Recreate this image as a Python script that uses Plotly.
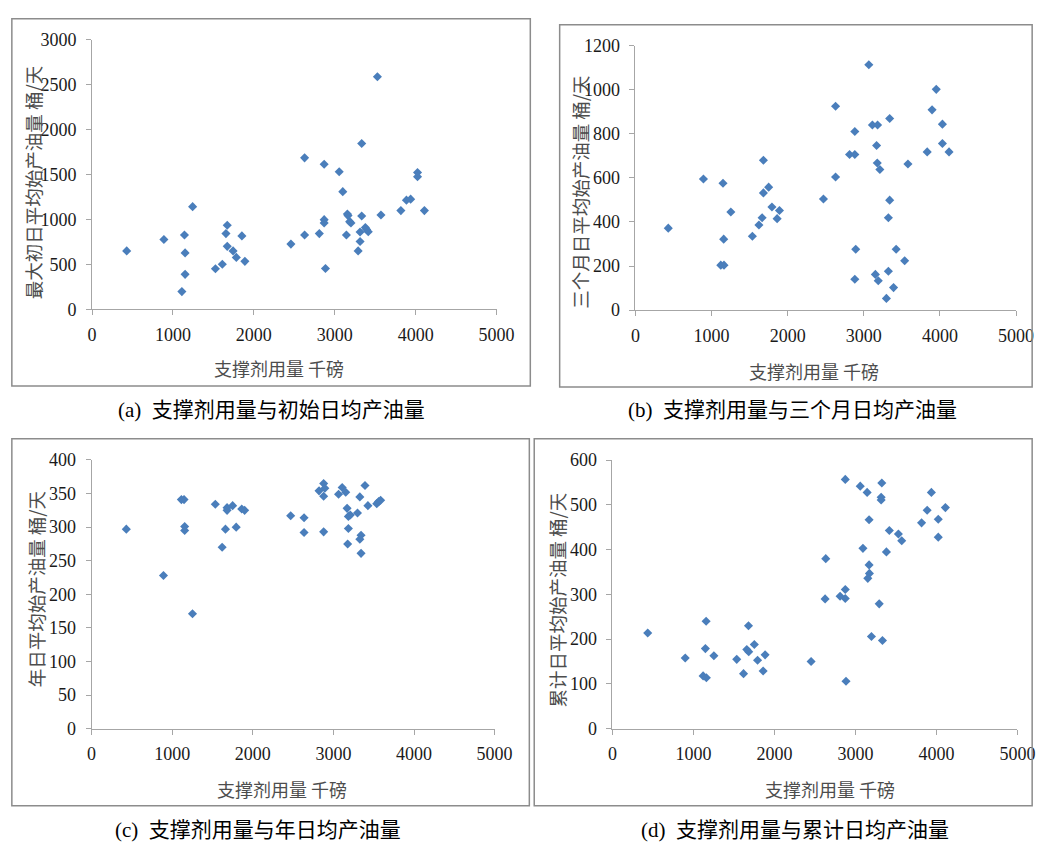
import plotly.graph_objects as go

# ---------------- data ----------------
# (a) proppant volume vs. max initial daily oil rate
a_x = [428, 888, 1142, 1150, 1150, 1110, 1243, 1525, 1610, 1655, 1671, 1671, 1743, 1783,
       1852, 1889, 2458, 2627, 2627, 2809, 2869, 2869, 2869, 2885, 3055, 3099, 3144, 3156,
       3164, 3184, 3200, 3289, 3313, 3313, 3333, 3333, 3378, 3394, 3414, 3527, 3571, 3817,
       3886, 3938, 4023, 4023, 4108]
a_y = [652, 779, 829, 630, 391, 199, 1145, 453, 503, 845, 938, 703, 652, 580,
       819, 536, 728, 829, 1688, 845, 1616, 1000, 964, 456, 1533, 1312, 829, 1062,
       1045, 978, 964, 652, 862, 757, 1848, 1040, 913, 891, 866, 2590, 1051, 1101,
       1217, 1228, 1525, 1478, 1101]

# (b) proppant volume vs. three-month daily oil rate
b_x = [431, 893, 1150, 1159, 1121, 1163, 1253, 1536, 1622, 1664, 1681, 1681, 1750, 1793,
       1861, 1892, 2470, 2629, 2629, 3066, 2882, 2813, 2882, 3113, 3181, 3340, 3168, 3177,
       3211, 3580, 3952, 3897, 4033, 4033, 3833, 4120, 3340, 3323, 2894, 2882, 3425, 3537,
       3323, 3152, 3190, 3391, 3297]
b_y = [372, 595, 576, 322, 204, 204, 445, 335, 386, 419, 680, 532, 558, 468,
       415, 452, 504, 925, 604, 1114, 811, 706, 706, 840, 840, 870, 747, 668,
       638, 663, 1002, 909, 844, 756, 718, 718, 499, 419, 276, 140, 276, 224,
       176, 162, 133, 102, 53]

# (c) proppant volume vs. annual daily oil rate
c_x = [431, 892, 1114, 1147, 1155, 1155, 1252, 1535, 1620, 1661, 1681, 1681, 1750, 1794,
       1863, 1899, 2470, 2636, 2636, 2822, 2879, 2894, 2879, 2879, 3064, 3109, 3153, 3170,
       3186, 3210, 3186, 3177, 3299, 3328, 3343, 3328, 3343, 3392, 3428, 3538, 3562, 3586]
c_y = [297, 228, 341, 341, 301, 295, 171, 334, 270, 297, 329, 325, 332, 300,
       327, 325, 317, 314, 292, 354, 365, 358, 346, 293, 349, 359, 352, 328,
       316, 318, 298, 275, 321, 345, 288, 282, 261, 362, 332, 335, 338, 340]

# (d) proppant volume vs. cumulative daily oil rate
d_x = [435, 898, 1156, 1147, 1252, 1119, 1159, 1534, 1618, 1679, 1658, 1682, 1751, 1791,
       1884, 1860, 2452, 2633, 2625, 2810, 2874, 2874, 2874, 2883, 3059, 3144, 3325, 3317,
       3317, 3168, 3092, 3168, 3172, 3152, 3293, 3197, 3333, 3418, 3530, 3571, 3382, 3937,
       3885, 3816, 4110, 4022, 4022]
d_y = [214, 158, 240, 179, 163, 118, 114, 155, 123, 230, 177, 172, 188, 153,
       165, 129, 150, 380, 290, 296, 311, 291, 557, 106, 542, 528, 549, 517,
       511, 467, 403, 366, 347, 336, 279, 206, 197, 443, 435, 420, 395, 528,
       488, 460, 494, 468, 428]

x_title = "支撑剂用量 千磅"
y_titles = ["最大初日平均始产油量 桶/天", "三个月日平均始产油量 桶/天",
            "年日平均始产油量 桶/天", "累计日平均始产油量 桶/天"]
captions = ["(a)  支撑剂用量与初始日均产油量", "(b)  支撑剂用量与三个月日均产油量",
            "(c)  支撑剂用量与年日均产油量", "(d)  支撑剂用量与累计日均产油量"]
y_ranges = [(0, 3000, 500), (0, 1200, 200), (0, 400, 50), (0, 600, 100)]

# ---------------- layout geometry (pixels) ----------------
W, H = 1057, 851
def px(x):
    return x / W
def py(y):
    return 1 - y / H

# plot areas: (left, top, right, bottom)
plots = [(89, 30.7, 502.5, 306.7), (644.5, 36.6, 1033.5, 307.3),
         (88.5, 460.8, 500.5, 736), (621, 461, 1035, 736)]
# chart frames
frames = [(7, 9, 537, 385), (567, 15, 1050, 386), (7, 439, 536, 815), (541, 439, 1050, 815)]
x_title_pos = [(280, 367), (827, 370), (283, 798), (843, 798)]
y_title_pos = [(28, 177), (587, 187), (32, 593), (564, 604)]
caption_pos = [(272, 410), (805, 410), (259, 840), (808, 840)]

SERIF = "Liberation Serif"
CJK = "Noto Sans CJK SC, sans-serif"
MIX = "Liberation Serif, Noto Sans CJK SC, serif"
BLUE = "#4a7ebb"
AXIS = "#a6a6a6"

fig = go.Figure()
data = [(a_x, a_y), (b_x, b_y), (c_x, c_y), (d_x, d_y)]
layout = {}
for i, (xs, ys) in enumerate(data):
    n = "" if i == 0 else str(i + 1)
    fig.add_trace(go.Scatter(
        x=xs, y=ys, mode="markers",
        marker=dict(symbol="diamond", size=7, color=BLUE, line=dict(width=0)),
        xaxis="x" + n, yaxis="y" + n, showlegend=False, hoverinfo="x+y"))
    l, t, r, b = plots[i]
    y0, y1, dy = y_ranges[i]
    layout["xaxis" + n] = dict(
        domain=[px(l), px(r)], anchor="y" + n, range=[0, 5000], dtick=1000,
        showgrid=False, zeroline=False, showline=True, linecolor=AXIS, linewidth=1,
        ticks="outside", ticklen=5, tickcolor=AXIS, ticklabelstandoff=4,
        tickfont=dict(family=SERIF, size=18, color="#1a1a1a"), fixedrange=True)
    layout["yaxis" + n] = dict(
        domain=[py(b), py(t)], anchor="x" + n, range=[y0, y1], dtick=dy,
        showgrid=False, zeroline=False, showline=True, linecolor=AXIS, linewidth=1,
        ticks="outside", ticklen=5, tickcolor=AXIS, ticklabelstandoff=6,
        tickfont=dict(family=SERIF, size=18, color="#1a1a1a"), fixedrange=True)

shapes = []
for (l, t, r, b) in frames:
    shapes.append(dict(type="rect", xref="paper", yref="paper",
                       x0=px(l), x1=px(r), y0=py(b), y1=py(t),
                       line=dict(color="#8c8c8c", width=1.5)))

annotations = []
for i in range(4):
    xt, yt = x_title_pos[i]
    annotations.append(dict(text=x_title, xref="paper", yref="paper",
                            x=px(xt), y=py(yt), showarrow=False,
                            xanchor="center", yanchor="middle",
                            font=dict(family=CJK, size=18, color="#4d4d4d")))
    xy, yy = y_title_pos[i]
    annotations.append(dict(text=y_titles[i], xref="paper", yref="paper",
                            x=px(xy), y=py(yy), showarrow=False, textangle=-90,
                            xanchor="center", yanchor="middle",
                            font=dict(family=CJK, size=18.5, color="#4d4d4d")))
    xc, yc = caption_pos[i]
    annotations.append(dict(text=captions[i], xref="paper", yref="paper",
                            x=px(xc), y=py(yc), showarrow=False,
                            xanchor="center", yanchor="middle",
                            font=dict(family=MIX, size=21, color="#000000")))

fig.update_layout(
    width=W, height=H, margin=dict(l=0, r=0, t=0, b=0),
    paper_bgcolor="white", plot_bgcolor="white",
    shapes=shapes, annotations=annotations, **layout)

fig.write_html("out.html")
